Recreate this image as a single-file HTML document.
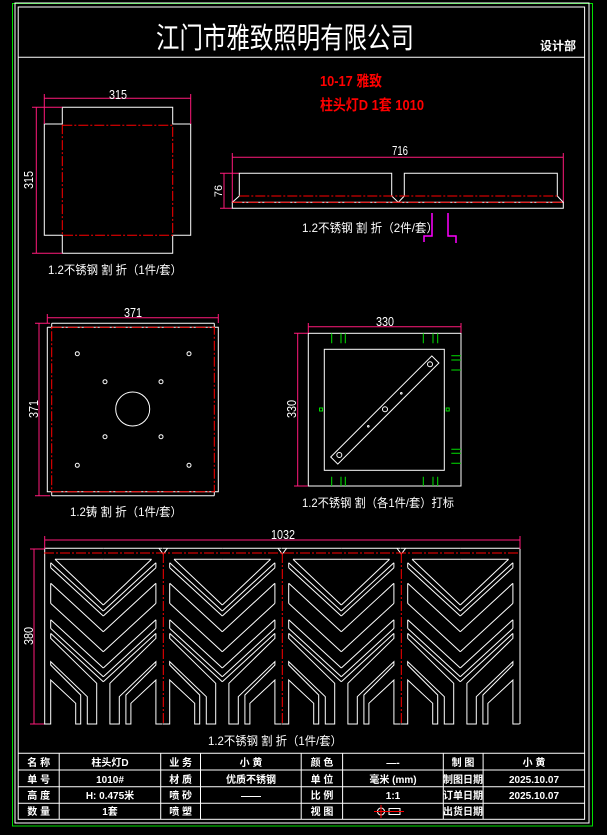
<!DOCTYPE html>
<html><head><meta charset="utf-8"><style>
html,body{margin:0;padding:0;background:#000;}
svg{display:block;}
text{font-family:"Liberation Sans","Noto Sans CJK SC",sans-serif;}
</style></head><body>
<svg width="607" height="835" viewBox="0 0 607 835" xmlns="http://www.w3.org/2000/svg">
<rect width="607" height="835" fill="#000"/>
<!-- frames -->
<rect x="12.5" y="3.5" width="580" height="822.5" fill="none" stroke="#00e000" stroke-width="1"/>
<rect x="15" y="3" width="574" height="820" fill="none" stroke="#fff" stroke-width="1"/>
<rect x="18.2" y="7" width="566.4" height="812.3" fill="none" stroke="#fff" stroke-width="1"/>
<line x1="18.2" y1="57.3" x2="584.6" y2="57.3" stroke="#fff"/>
<text x="285" y="48" font-size="29" fill="#fff" text-anchor="middle" textLength="258" lengthAdjust="spacingAndGlyphs">江门市雅致照明有限公司</text>
<text x="558" y="50" font-size="12" fill="#fff" text-anchor="middle" font-weight="bold">设计部</text>

<!-- red notes -->
<text x="320" y="86" font-size="15" fill="#ff0000" font-weight="bold" textLength="62" lengthAdjust="spacingAndGlyphs">10-17 雅致</text>
<text x="320" y="110" font-size="15" fill="#ff0000" font-weight="bold" textLength="104" lengthAdjust="spacingAndGlyphs">柱头灯D 1套 1010</text>

<g fill="none" stroke-width="1">
<!-- top-left drawing -->
<path d="M62.3,107.3H172.7V124H190.7V235.3H172.7V253.3H62.3V235.3H44.3V124H62.3Z" stroke="#fff"/>
<rect x="62.3" y="125.3" width="110.4" height="110" stroke="#ff0000" stroke-dasharray="10 2 2 2"/>
<path d="M44.3,98.3H190.7M44.3,94V124M190.7,94V124M36.3,107.3V253.3M32,107.3H62.3M32,253.3H62.3" stroke="#ff1a7a"/>

<!-- top-right drawing -->
<path d="M232.3,157.3H563.3M232.3,153V203M563.3,153V203M224,173.3V208.3M220,173.3H239M220,208.3H232" stroke="#ff1a7a"/>
<path d="M232.3,202.3H563.3V208.3H232.3Z" stroke="#fff"/>
<path d="M232.3,202.3L239.3,196V173.3H391.7V196L398.3,202.3L404.3,196V173.3H557.3V196L563.3,202.3" stroke="#fff"/>
<path d="M239.3,196H557.3M232.3,202.3H563.3" stroke="#ff0000" stroke-dasharray="10 2 2 2"/>
<path d="M424,242V236H432V213M448,213V236H456V243" stroke="#ff00ff" stroke-width="1.5"/>

<!-- middle-left drawing -->
<path d="M51.7,323.3H214.3M51.7,495.7H214.3M47.3,327.3V491.7H218.3V327.3H47.3M51.7,323.3V327.3M214.3,323.3V327.3M51.7,491.7V495.7M214.3,491.7V495.7" stroke="#fff"/>
<rect x="51.7" y="327.3" width="162.6" height="164.4" stroke="#ff0000" stroke-dasharray="10 2 2 2"/>
<g stroke="#fff">
<circle cx="132.7" cy="409" r="17"/>
<circle cx="77.3" cy="353.7" r="2"/><circle cx="189" cy="353.7" r="2"/>
<circle cx="105" cy="381.7" r="2"/><circle cx="161" cy="381.7" r="2"/>
<circle cx="105" cy="436.7" r="2"/><circle cx="161" cy="436.7" r="2"/>
<circle cx="77.3" cy="465.3" r="2"/><circle cx="189" cy="465.3" r="2"/>
</g>
<path d="M47.3,317.7H218.3M47.3,314V323M218.3,314V323M39,323.3V495.7M35,323.3H50M35,495.7H50" stroke="#ff1a7a"/>

<!-- middle-right drawing -->
<rect x="308.3" y="333.3" width="152.7" height="152.7" stroke="#fff"/>
<rect x="324.3" y="349.3" width="120" height="121" stroke="#fff"/>
<rect x="313.3" y="405" width="143" height="10" transform="rotate(-45 384.8 410)" stroke="#fff"/>
<g stroke="#fff">
<circle cx="430" cy="364.3" r="2.5"/><circle cx="339.3" cy="455" r="2.5"/><circle cx="385" cy="409.3" r="2.5"/>
<circle cx="401.3" cy="393.3" r="0.8"/><circle cx="368.3" cy="426.3" r="0.8"/>
</g>
<path d="M331.7,333.3V343.3M341,333.3V343.3M345.3,333.3V343.3M423.3,333.3V343.3M433,333.3V343.3M437.7,333.3V343.3M331.7,476.7V486M341,476.7V486M345.3,476.7V486M423.3,476.7V486M433,476.7V486M437.7,476.7V486M451.3,355.7H461M451.3,360H461M451.3,370H461M451.3,449.3H461M451.3,453.3H461M451.3,463.3H461" stroke="#00e000"/>
<rect x="319.5" y="408" width="3" height="3" stroke="#00e000"/>
<rect x="446.2" y="408" width="3" height="3" stroke="#00e000"/>
<path d="M308.3,326.7H461M308.3,323V333M461,323V333M297.7,333.3V486M294,333.3H308M294,486H308" stroke="#ff1a7a"/>

<!-- bottom big drawing -->
<defs>
<g id="h">
<path d="M0,548.3H59.3M11,559.3H59.3M11,559.3L59.3,605M6.7,562.7L59.3,611M6.7,567.7L59.3,616M6.7,562.7V567.7M6.7,583.3L59.3,631.7M6.7,603.4L59.3,651.7M6.7,583.3V603.4M6.7,619.7L59.3,668M6.7,628.4L59.3,676.7M6.7,619.7V628.4M6.7,633.4L59.3,681.7M6.7,633.4V638.3L52.7,683.3V724H43.3V696.7L6.7,661.7V665L36.7,695V724H31.7V703.3L6.7,680V724H0" stroke="#fff" fill="none"/>
</g>
<g id="p"><use href="#h"/><g transform="translate(118.6,0) scale(-1,1)"><use href="#h"/></g></g>
</defs>
<use href="#p" transform="translate(44,0)"/>
<use href="#p" transform="translate(163,0)"/>
<use href="#p" transform="translate(282,0)"/>
<use href="#p" transform="translate(401,0)"/>
<path d="M44.7,549V724M520,549V724M159,548.3L163.3,554L167.6,548.3M278,548.3L282.3,554L286.6,548.3M397,548.3L401.3,554L405.6,548.3" stroke="#fff"/>
<path d="M44,553H520M163.3,553V724M282.3,553V724M401.3,553V724" stroke="#ff0000" stroke-dasharray="10 2 2 2"/>
<path d="M44.7,540H520M44.7,536V549M520,536V549M34,549V724M30,549H44M30,724H44" stroke="#ff1a7a"/>

<!-- title block -->
<path d="M18.2,753.3H584.6M18.2,770H584.6M18.2,786.7H584.6M18.2,803.3H584.6M59.2,753.3V819.3M160.7,753.3V819.3M200.5,753.3V819.3M301.2,753.3V819.3M342.6,753.3V819.3M443.3,753.3V819.3M483.1,753.3V819.3" stroke="#fff"/>
<circle cx="381" cy="811.5" r="3.5" stroke="#fff"/>
<rect x="389" y="808.5" width="11" height="6" stroke="#fff"/>
<path d="M381,805V818M374,811.5H388M385,811.5H404" stroke="#ff0000"/>
</g>

<!-- dimension texts -->
<g fill="#fff" font-size="13" text-anchor="middle">
<text x="118" y="99" textLength="18" lengthAdjust="spacingAndGlyphs">315</text>
<text transform="translate(33,180) rotate(-90)" textLength="18" lengthAdjust="spacingAndGlyphs">315</text>
<text x="400" y="155" textLength="16" lengthAdjust="spacingAndGlyphs">716</text>
<text transform="translate(222,191) rotate(-90)" font-size="11">76</text>
<text x="133" y="317" textLength="18" lengthAdjust="spacingAndGlyphs">371</text>
<text transform="translate(38,409) rotate(-90)" textLength="18" lengthAdjust="spacingAndGlyphs">371</text>
<text x="385" y="326" textLength="18" lengthAdjust="spacingAndGlyphs">330</text>
<text transform="translate(296,409) rotate(-90)" textLength="18" lengthAdjust="spacingAndGlyphs">330</text>
<text x="283" y="539" textLength="24" lengthAdjust="spacingAndGlyphs">1032</text>
<text transform="translate(33,636) rotate(-90)" textLength="18" lengthAdjust="spacingAndGlyphs">380</text>
</g>
<!-- captions -->
<g fill="#fff" font-size="12" text-anchor="middle">
<text x="115" y="274" textLength="134" lengthAdjust="spacingAndGlyphs">1.2不锈钢 割 折（1件/套）</text>
<text x="370" y="232" textLength="136" lengthAdjust="spacingAndGlyphs">1.2不锈钢 割 折（2件/套）</text>
<text x="126" y="516" textLength="112" lengthAdjust="spacingAndGlyphs">1.2铸 割 折（1件/套）</text>
<text x="378" y="507" textLength="152" lengthAdjust="spacingAndGlyphs">1.2不锈钢 割（各1件/套）打标</text>
<text x="275" y="745" textLength="134" lengthAdjust="spacingAndGlyphs">1.2不锈钢 割 折（1件/套）</text>
</g>
<!-- table text -->
<g fill="#fff" font-size="10" text-anchor="middle" font-weight="bold">
<text x="38.7" y="766">名 称</text><text x="110" y="766">柱头灯D</text><text x="180.6" y="766">业 务</text><text x="251" y="766">小 黄</text><text x="322" y="766">颜 色</text><text x="393" y="766">—-</text><text x="463" y="766">制 图</text><text x="534" y="766">小 黄</text>
<text x="38.7" y="783">单 号</text><text x="110" y="783">1010#</text><text x="180.6" y="783">材 质</text><text x="251" y="783">优质不锈钢</text><text x="322" y="783">单 位</text><text x="393" y="783">毫米 (mm)</text><text x="463" y="783">制图日期</text><text x="534" y="783">2025.10.07</text>
<text x="38.7" y="799">高 度</text><text x="110" y="799">H: 0.475米</text><text x="180.6" y="799">喷 砂</text><text x="251" y="799">——</text><text x="322" y="799">比 例</text><text x="393" y="799">1:1</text><text x="463" y="799">订单日期</text><text x="534" y="799">2025.10.07</text>
<text x="38.7" y="815">数 量</text><text x="110" y="815">1套</text><text x="180.6" y="815">喷 塑</text><text x="322" y="815">视 图</text><text x="463" y="815">出货日期</text>
</g>
</svg>
</body></html>
